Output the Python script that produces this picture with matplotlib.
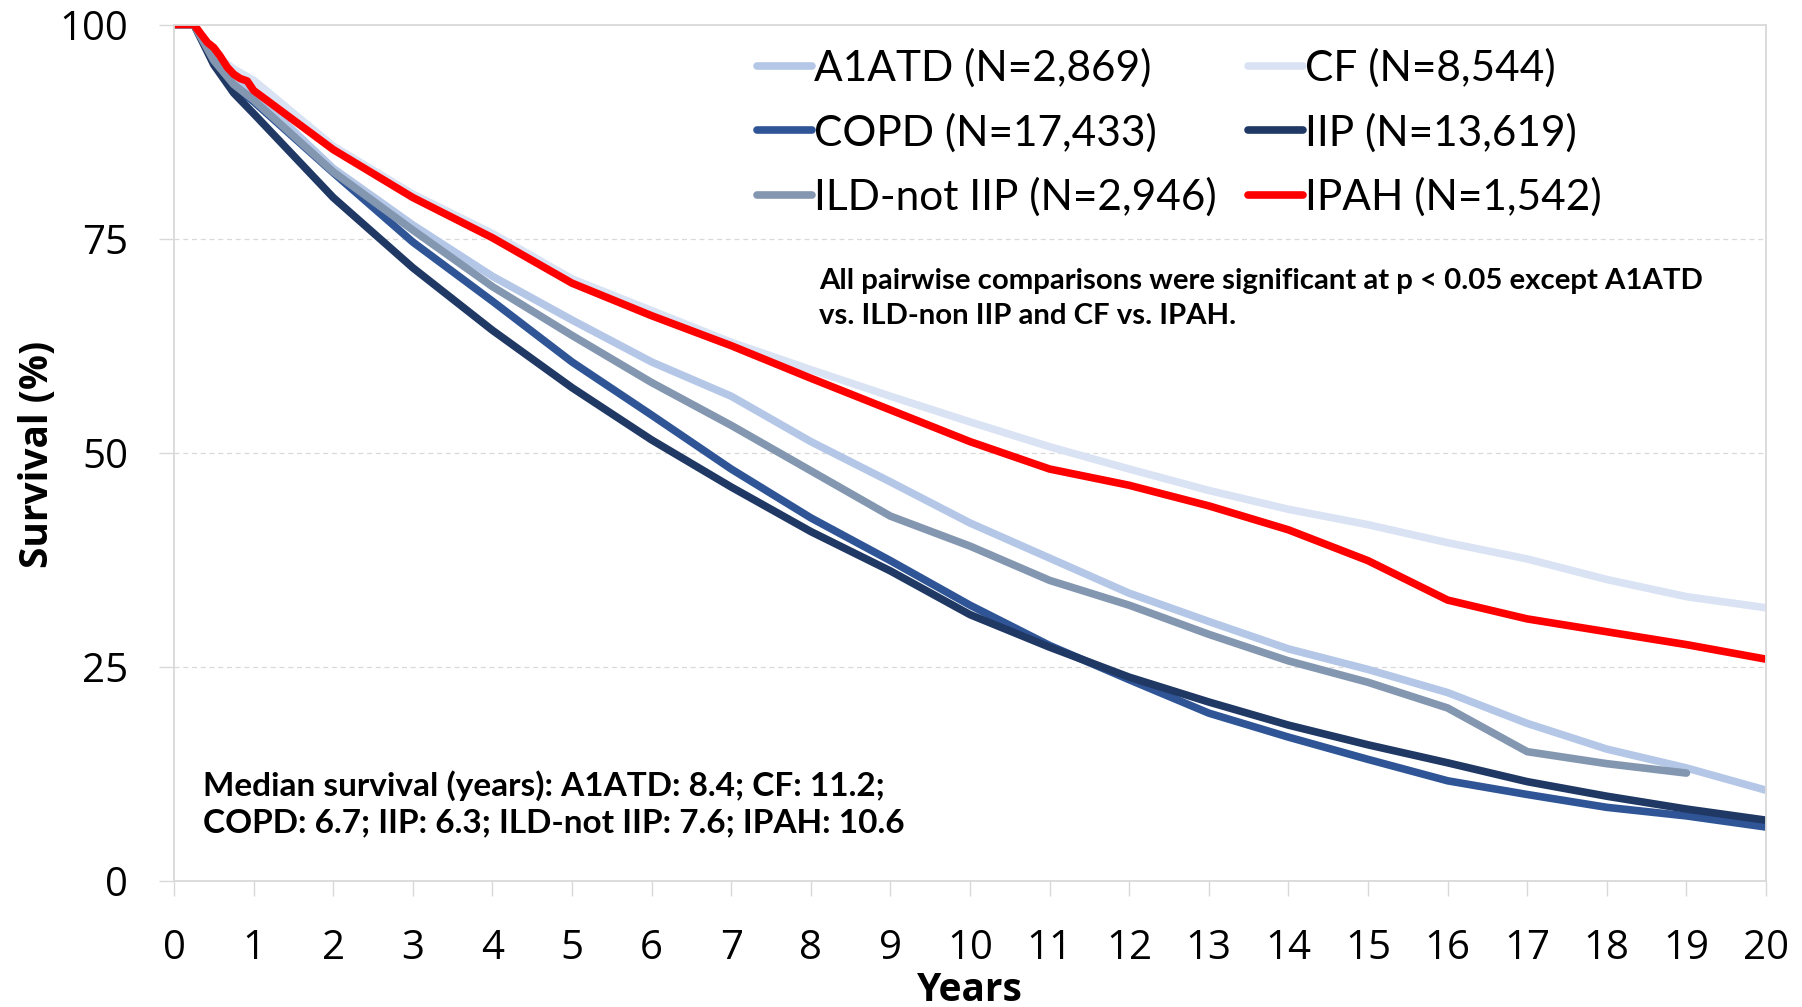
import numpy as np
import matplotlib
matplotlib.use('Agg')
import matplotlib.pyplot as plt
from matplotlib.lines import Line2D

##data (survival %)

years=[0,0.25,0.5,0.75,1,2,3,4,5,6,7,8,9,10,11,12,13,14,15,16,17,18,19,20]
a1atd=[100,100,96.2,93.8,92.0,83.2,76.6,70.6,65.5,60.6,56.6,51.3,46.6,41.8,37.7,33.6,30.3,27.1,24.7,22.0,18.4,15.4,13.2,10.6]
cf=[100,100,96.6,94.8,93.5,85.8,80.2,75.6,70.3,66.6,62.9,59.7,56.6,53.6,50.7,48.1,45.6,43.4,41.6,39.5,37.6,35.2,33.2,31.9]
copd=[100,100,95.6,92.8,91.0,82.7,74.6,67.7,60.6,54.4,48.1,42.4,37.4,32.2,27.5,23.5,19.6,16.8,14.2,11.7,10.1,8.6,7.6,6.3]
iip=[100,100,95.3,92.0,89.6,79.8,71.6,64.3,57.6,51.5,46.0,40.8,36.2,31.1,27.3,23.8,20.9,18.2,15.9,13.8,11.6,9.9,8.4,7.1]
years_ild=[0,0.25,0.5,0.75,1,2,3,4,5,6,7,8,9,10,11,12,13,14,15,16,17,18,19]
ild=[100,100,95.8,93.0,91.2,82.8,76.0,69.4,63.7,58.2,53.2,47.9,42.6,39.1,35.1,32.2,28.8,25.7,23.2,20.2,15.1,13.7,12.6]
years_ipah=[0,0.25,0.33,0.42,0.5,0.58,0.67,0.75,0.83,0.92,1,2,3,4,5,6,7,8,9,10,11,12,13,14,15,16,17,18,19,20]
ipah=[100,100,99.0,97.9,97.3,96.3,95.0,94.2,93.7,93.4,92.3,85.4,79.8,75.1,69.8,66.0,62.5,58.7,55.0,51.3,48.1,46.2,43.8,41.0,37.4,32.8,30.6,29.1,27.6,25.9]

labels={'A1ATD':'A1ATD (N=2,869)','CF':'CF (N=8,544)','COPD':'COPD (N=17,433)',
        'IIP':'IIP (N=13,619)','ILD':'ILD-not IIP (N=2,946)','IPAH':'IPAH (N=1,542)'}
colors={'A1ATD':'#B4C7E7','CF':'#DAE3F3','COPD':'#2F5597','IIP':'#203864','ILD':'#8497B0','IPAH':'#FF0000'}

note_top='All pairwise comparisons were significant at p < 0.05 except A1ATD\nvs. ILD-non IIP and CF vs. IPAH.'
note_bottom='Median survival (years): A1ATD: 8.4; CF: 11.2;\nCOPD: 6.7; IIP: 6.3; ILD-not IIP: 7.6; IPAH: 10.6'

##figure

W,H=1802,1007
fig=plt.figure(figsize=(W/100,H/100),dpi=100)
ax=fig.add_axes([174/W,1-881/H,1592/W,856.5/H])

lw=5.5
series=[('A1ATD',years,a1atd),('CF',years,cf),('COPD',years,copd),
        ('IIP',years,iip),('ILD',years_ild,ild),('IPAH',years_ipah,ipah)]
for key,x,y in series:
    ax.plot(x,y,color=colors[key],lw=lw,solid_joinstyle='round',solid_capstyle='round' if key=='ILD' else 'butt')

ax.set_xlim(0,20)
ax.set_ylim(0,100)
ax.set_xticks(range(0,21))
ax.set_yticks([0,25,50,75,100])

grey='#D9D9D9'
for s in ax.spines.values():
    s.set_color(grey)
    s.set_linewidth(1.3)
for yv in [25,50,75]:
    ax.axhline(yv,color=grey,lw=0.9,ls=(0,(4,3)),zorder=0)

tickfont='Open Sans'
ax.tick_params(axis='both',direction='out',length=11,width=1,color=grey,labelsize=29)
ax.tick_params(axis='y',pad=22)
ax.tick_params(axis='x',pad=23)
for t in ax.get_xticklabels()+ax.get_yticklabels():
    t.set_fontfamily(tickfont)

ax.set_xlabel('Years',fontsize=28,fontweight='bold',family=tickfont,va='baseline')
ax.xaxis.set_label_coords(0.5,-0.140)
ax.set_ylabel('Survival (%)',fontsize=28,fontweight='bold',family=tickfont,va='center')
ax.yaxis.set_label_coords(-0.086,0.4986)

# legend: two columns drawn as two legends so each starts where it should
def handles(keys):
    return [Line2D([],[],color=colors[k],lw=lw,solid_capstyle='round') for k in keys]

legkw=dict(frameon=False,prop={'family':'Lato','size':30.5},handlelength=1.3,handletextpad=0.05,
           labelspacing=0.6,borderpad=0,borderaxespad=0,loc='upper left',bbox_transform=fig.transFigure)
keys1=['A1ATD','COPD','ILD']
keys2=['CF','IIP','IPAH']
leg1=ax.legend(handles(keys1),[labels[k] for k in keys1],bbox_to_anchor=(757/W,1-48/H),**legkw)
ax.add_artist(leg1)
leg2=ax.legend(handles(keys2),[labels[k] for k in keys2],bbox_to_anchor=(1248/W,1-48/H),**legkw)

fig.text(819/W,1-298.5/H,note_top,fontsize=21.2,fontweight='bold',family='Lato',ha='left',va='center',linespacing=1.4)
fig.text(203/W,1-803.5/H,note_bottom,fontsize=24,fontweight='bold',family='Lato',ha='left',va='center',linespacing=1.32)

fig.savefig('out.png',dpi=100)
